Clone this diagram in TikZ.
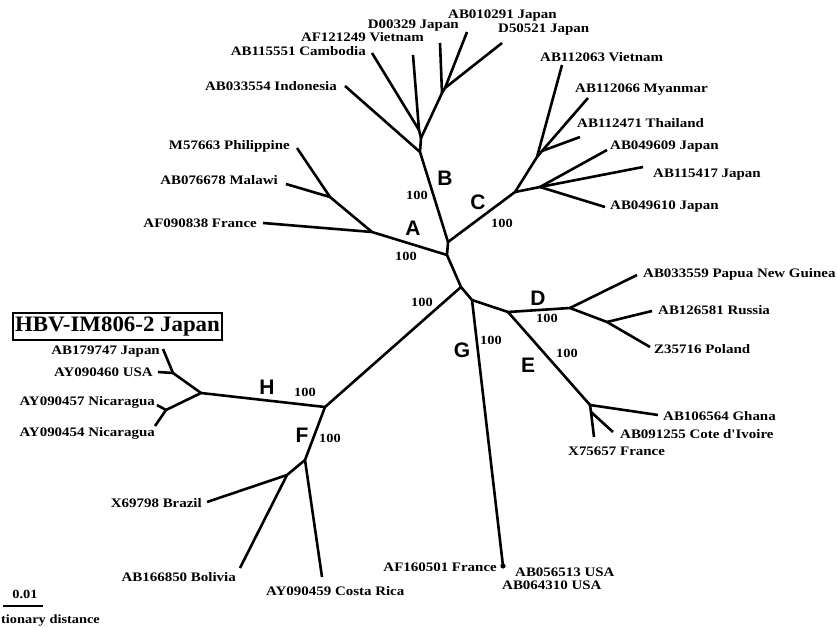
\documentclass[tikz,border=0pt]{standalone}
\usepackage{fontspec}
\newfontfamily\labfont[FakeStretch=1.15]{Liberation Serif}
\newfontfamily\hbvfont[FakeStretch=1.04]{Liberation Serif}
\newfontfamily\cladefont{Liberation Sans}
\begin{document}
\begin{tikzpicture}[x=1pt,y=-1pt,
  br/.style={line width=2.6pt, line join=round},
  lab/.style={font=\labfont\bfseries\fontsize{13}{15}\selectfont, inner sep=0pt},
  boot/.style={font=\labfont\bfseries\fontsize{12.5}{14}\selectfont, inner sep=0pt},
  clade/.style={font=\cladefont\bfseries\fontsize{21}{24}\selectfont, inner sep=0pt}]
\useasboundingbox (0,0) rectangle (837,628);

% ---- tree coordinates ----
% centre
\coordinate (r1) at (448,242);
\coordinate (r2) at (447,255);
\coordinate (r3) at (461,287);
\coordinate (r4) at (472,300);
\coordinate (r5) at (508,312);
% B clade
\coordinate (lCam) at (372,53);
\coordinate (lVie) at (413,55);
\coordinate (lD00) at (440,43);
\coordinate (lAB01) at (467,32);
\coordinate (lD50) at (502,43);
\coordinate (j1) at (445,88);
\coordinate (j2) at (442,93);
\coordinate (bCV) at (419,130);
\coordinate (bJ) at (421,138);
\coordinate (lInd) at (345,86);
\coordinate (bI) at (420,152);
% A clade
\coordinate (lPhi) at (297,148);
\coordinate (lMal) at (286,184);
\coordinate (aPM) at (330,197);
\coordinate (lFra) at (263,223);
\coordinate (aJ) at (372,232);
% C clade
\coordinate (lV63) at (562,65);
\coordinate (lMya) at (588,98);
\coordinate (lTha) at (580,137);
\coordinate (cMT) at (542,151);
\coordinate (cV) at (537,157);
\coordinate (lJ09) at (607,150);
\coordinate (lJ15) at (643,167);
\coordinate (lJ10) at (605,207);
\coordinate (cJ) at (540,187);
\coordinate (cR) at (515,192);
% D clade
\coordinate (dJ) at (570,308);
\coordinate (lPNG) at (637,275);
\coordinate (dRP) at (607,322);
\coordinate (lRus) at (652,311);
\coordinate (lPol) at (650,347);
% E clade
\coordinate (eJ) at (590,405);
\coordinate (lGha) at (658,415);
\coordinate (eJ2) at (591,412);
\coordinate (lCot) at (613,432);
\coordinate (lX75) at (594,437);
% G clade
\coordinate (lG) at (503,566);
% H clade
\coordinate (hf) at (325,407);
\coordinate (hJ) at (201,393);
\coordinate (hJ1) at (173,373);
\coordinate (lAB17) at (163,349);
\coordinate (lAY60) at (158,372);
\coordinate (hJ2) at (166,410);
\coordinate (lAY57) at (157,405);
\coordinate (lAY54) at (155,426);
% F clade
\coordinate (fJ) at (305,460);
\coordinate (fBB) at (287,475);
\coordinate (lBra) at (207,502);
\coordinate (lBol) at (240,568);
\coordinate (lCR) at (322,577);

% ---- branches ----
\draw[br] (r1) -- (r2) -- (r3) -- (r4) -- (r5);
\draw[br] (bI) -- (r1);
\draw[br] (cR) -- (r1);
\draw[br] (aJ) -- (r2);
\draw[br] (hf) -- (r3);
\draw[br] (lG) -- (r4);
% B
\draw[br] (lAB01) -- (j1);
\draw[br] (lD50) -- (j1);
\draw[br] (j1) -- (j2);
\draw[br] (lD00) -- (j2);
\draw[br] (j2) -- (bJ);
\draw[br] (lCam) -- (bCV);
\draw[br] (lVie) -- (bCV);
\draw[br] (bCV) -- (bJ);
\draw[br] (bJ) -- (bI);
\draw[br] (lInd) -- (bI);
% A
\draw[br] (lPhi) -- (aPM);
\draw[br] (lMal) -- (aPM);
\draw[br] (aPM) -- (aJ);
\draw[br] (lFra) -- (aJ);
% C
\draw[br] (lMya) -- (cMT);
\draw[br] (lTha) -- (cMT);
\draw[br] (cMT) -- (cV);
\draw[br] (lV63) -- (cV);
\draw[br] (cV) -- (cR);
\draw[br] (lJ09) -- (cJ);
\draw[br] (lJ15) -- (cJ);
\draw[br] (lJ10) -- (cJ);
\draw[br] (cJ) -- (cR);
% D
\draw[br] (r5) -- (dJ);
\draw[br] (lPNG) -- (dJ);
\draw[br] (dJ) -- (dRP);
\draw[br] (lRus) -- (dRP);
\draw[br] (lPol) -- (dRP);
% E
\draw[br] (r5) -- (eJ);
\draw[br] (lGha) -- (eJ);
\draw[br] (eJ) -- (eJ2);
\draw[br] (lCot) -- (eJ2);
\draw[br] (lX75) -- (eJ2);
% H
\draw[br] (hf) -- (hJ);
\draw[br] (hJ) -- (hJ1);
\draw[br] (lAB17) -- (hJ1);
\draw[br] (lAY60) -- (hJ1);
\draw[br] (hJ) -- (hJ2);
\draw[br] (lAY57) -- (hJ2);
\draw[br] (lAY54) -- (hJ2);
% F
\draw[br] (hf) -- (fJ);
\draw[br] (fJ) -- (fBB);
\draw[br] (lBra) -- (fBB);
\draw[br] (lBol) -- (fBB);
\draw[br] (fJ) -- (lCR);
\fill (lG) circle (2.6pt);

% ---- leaf labels ----
\node[lab,anchor=west] (tAB01) at (448,16) {AB010291 Japan};
\node[lab,anchor=west] (tD50) at (498,30) {D50521 Japan};
\node[lab,anchor=east] (tD00) at (459,26) {D00329 Japan};
\node[lab,anchor=east] (tVie) at (424,37) {AF121249 Vietnam};
\node[lab,anchor=east] (tCam) at (366,51) {AB115551 Cambodia};
\node[lab,anchor=east] (tInd) at (337,86) {AB033554 Indonesia};
\node[lab,anchor=east] (tPhi) at (290,146) {M57663 Philippine};
\node[lab,anchor=east] (tMal) at (278,180) {AB076678 Malawi};
\node[lab,anchor=east] (tFra) at (257,223) {AF090838 France};
\node[lab,anchor=west] (tV63) at (540,57) {AB112063 Vietnam};
\node[lab,anchor=west] (tMya) at (575,90) {AB112066 Myanmar};
\node[lab,anchor=west] (tTha) at (577,123) {AB112471 Thailand};
\node[lab,anchor=west] (tJ09) at (610,147) {AB049609 Japan};
\node[lab,anchor=west] (tJ15) at (653,175) {AB115417 Japan};
\node[lab,anchor=west] (tJ10) at (610,207) {AB049610 Japan};
\node[lab,anchor=west] (tPNG) at (643,274) {AB033559 Papua New Guinea};
\node[lab,anchor=west] (tRus) at (658,310) {AB126581 Russia};
\node[lab,anchor=west] (tPol) at (654,349) {Z35716 Poland};
\node[lab,anchor=west] (tGha) at (663,416) {AB106564 Ghana};
\node[lab,anchor=west] (tCot) at (620,434) {AB091255 Cote d'Ivoire};
\node[lab,anchor=west] (tX75) at (568,451) {X75657 France};
\node[lab,anchor=east] (tAF16) at (497,567) {AF160501 France};
\node[lab,anchor=west] (tAB56) at (515,572) {AB056513 USA};
\node[lab,anchor=west] (tAB64) at (502,585) {AB064310 USA};
\node[lab,anchor=east] (tAB17) at (160,352) {AB179747 Japan};
\node[lab,anchor=east] (tAY60) at (153,372) {AY090460 USA};
\node[lab,anchor=east] (tAY57) at (155,402) {AY090457 Nicaragua};
\node[lab,anchor=east] (tAY54) at (155,433) {AY090454 Nicaragua};
\node[lab,anchor=east] (tBra) at (202,503) {X69798 Brazil};
\node[lab,anchor=east] (tBol) at (236,577) {AB166850 Bolivia};
\node[lab,anchor=west] (tCR) at (266,591) {AY090459 Costa Rica};

% ---- highlighted strain ----
\node[draw, line width=1.2pt, minimum width=209pt, minimum height=27pt, inner sep=0pt,
      font=\hbvfont\bfseries\fontsize{22}{24}\selectfont] (hbv) at (117.5,326.5) {HBV-IM806-2 Japan};

% ---- clade letters ----
\node[clade] (cA) at (413,228) {A};
\node[clade] (cB) at (445,178) {B};
\node[clade] (cC) at (478,202) {C};
\node[clade] (cD) at (538,298) {D};
\node[clade] (cE) at (528,365) {E};
\node[clade] (cF) at (302,435) {F};
\node[clade] (cG) at (462,350) {G};
\node[clade] (cH) at (267,387) {H};

% ---- bootstrap values ----
\node[boot] (bA) at (406,256) {100};
\node[boot] (bB) at (417,195) {100};
\node[boot] (bC) at (502,223) {100};
\node[boot] (bD) at (547,318) {100};
\node[boot] (bE) at (567,353) {100};
\node[boot] (bF) at (330,438) {100};
\node[boot] (bG) at (491,340) {100};
\node[boot] (bH) at (305,392) {100};
\node[boot] (bHF) at (422,302) {100};

% ---- scale bar ----
\coordinate (sb1) at (3,606);
\coordinate (sb2) at (43,606);
\draw[line width=2pt] (sb1) -- (sb2);
\node[boot] (sbt) at (25,594) {0.01};
\node[boot,anchor=west] (sbl) at (1,621) {tionary distance};
\end{tikzpicture}
\end{document}
